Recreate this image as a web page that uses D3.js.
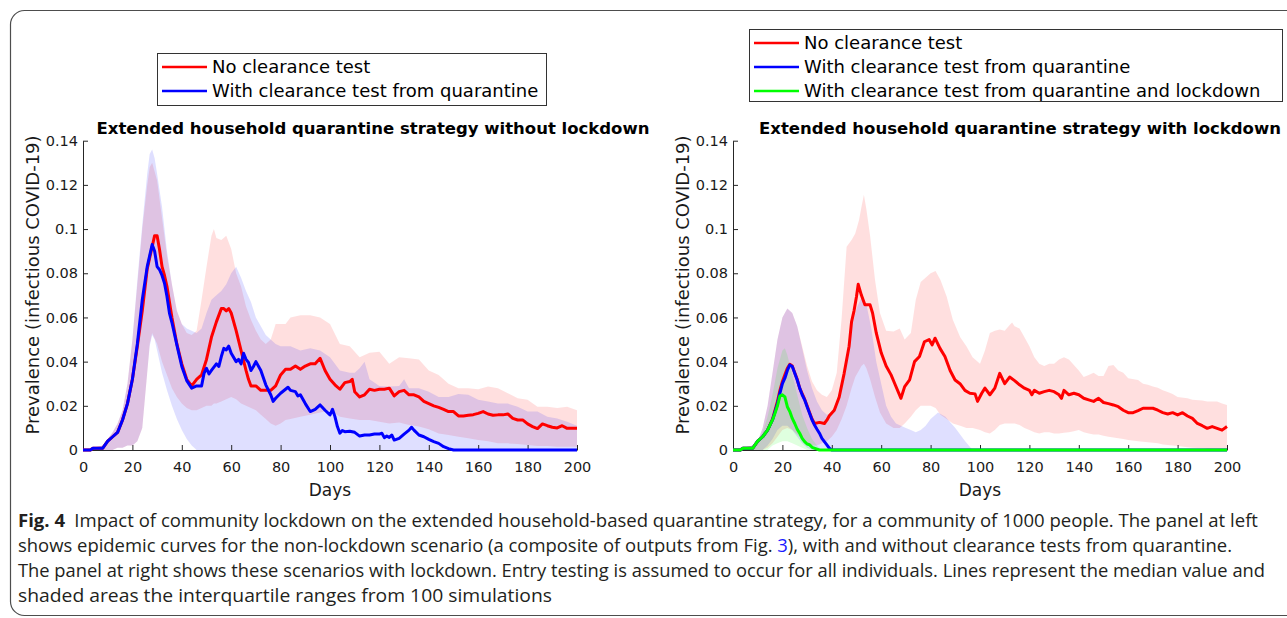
<!DOCTYPE html>
<html><head><meta charset="utf-8">
<script src="https://cdn.jsdelivr.net/npm/d3@7"></script>
<style>
html,body{margin:0;padding:0;background:#fff;}
svg{display:block;}
</style></head>
<body>
<svg id="chart" width="1287" height="618"></svg>
<script>
// ---------------- DATA ----------------
const xTicks = [0,20,40,60,80,100,120,140,160,180,200];
const yTicks = [0,0.02,0.04,0.06,0.08,0.1,0.12,0.14];
const yTickLabels = ["0","0.02","0.04","0.06","0.08","0.1","0.12","0.14"];

const seriesNames = ["No clearance test","With clearance test from quarantine","With clearance test from quarantine and lockdown"];
const titles = ["Extended household quarantine strategy without lockdown","Extended household quarantine strategy with lockdown"];
const yLabel = "Prevalence (infectious COVID-19)";
const xLabel = "Days";

// Left panel: medians [day, value]
const leftNoTest = [[0,0],[3,0],[4,0.0008],[8,0.0008],[10,0.004],[12,0.006],[14,0.008],[16,0.0136],[18,0.021],[20,0.032],[22,0.047],[24,0.063],[26,0.082],[28,0.092],[29,0.097],[30,0.097],[31,0.0906],[32,0.083],[33,0.079],[34,0.074],[36,0.060],[38,0.048],[40,0.039],[42,0.032],[44,0.029],[46,0.032],[48,0.034],[50,0.041],[52,0.051],[54,0.058],[56,0.064],[57,0.064],[58,0.063],[59,0.064],[60,0.062],[62,0.054],[64,0.045],[66,0.036],[67,0.032],[68,0.029],[70,0.029],[72,0.027],[74,0.027],[76,0.027],[78,0.029],[80,0.034],[82,0.0365],[84,0.0365],[86,0.038],[88,0.0365],[90,0.038],[92,0.039],[94,0.039],[96,0.0415],[98,0.036],[100,0.032],[102,0.0295],[104,0.0275],[106,0.0305],[108,0.031],[109,0.032],[110,0.0264],[112,0.024],[114,0.025],[116,0.0275],[118,0.027],[120,0.0275],[122,0.0275],[124,0.028],[126,0.0245],[128,0.0264],[130,0.027],[132,0.025],[134,0.025],[136,0.024],[138,0.022],[140,0.021],[142,0.020],[144,0.0193],[146,0.0184],[148,0.0174],[150,0.0174],[152,0.0154],[154,0.0154],[156,0.0157],[158,0.016],[160,0.0166],[162,0.0174],[164,0.0163],[166,0.0157],[168,0.0159],[170,0.0159],[172,0.0163],[174,0.0143],[176,0.0136],[178,0.0136],[180,0.0118],[182,0.0106],[184,0.0097],[186,0.0118],[188,0.011],[190,0.0103],[192,0.010],[194,0.011],[196,0.0098],[198,0.0098],[200,0.0098]];
const leftWithTest = [[0,0],[3,0],[4,0.0008],[8,0.0008],[10,0.004],[12,0.006],[14,0.008],[16,0.0136],[18,0.021],[20,0.032],[22,0.048],[24,0.068],[26,0.083],[27,0.088],[28,0.093],[29,0.090],[30,0.083],[31,0.0816],[32,0.079],[33,0.0755],[34,0.0695],[35,0.062],[36,0.0577],[38,0.0476],[40,0.0378],[42,0.0314],[44,0.028],[46,0.029],[48,0.029],[49,0.0347],[50,0.037],[51,0.0344],[52,0.036],[54,0.039],[55,0.0378],[56,0.0423],[57,0.046],[58,0.0453],[59,0.047],[60,0.0438],[62,0.040],[63,0.041],[64,0.039],[65,0.0438],[66,0.041],[67,0.0396],[68,0.036],[69,0.0378],[70,0.040],[72,0.036],[74,0.0295],[76,0.025],[77,0.022],[78,0.0234],[80,0.0257],[82,0.0275],[83,0.0284],[84,0.027],[86,0.0264],[87,0.0245],[88,0.025],[90,0.021],[92,0.0174],[94,0.0184],[96,0.0204],[98,0.018],[100,0.0159],[101,0.0184],[102,0.0151],[103,0.0106],[104,0.0076],[105,0.0088],[106,0.0083],[108,0.0085],[110,0.008],[112,0.0063],[114,0.0068],[116,0.0068],[118,0.0072],[120,0.0072],[121,0.0076],[122,0.0056],[123,0.0063],[124,0.0057],[125,0.0068],[126,0.0045],[128,0.0053],[130,0.0072],[132,0.009],[133,0.0103],[134,0.009],[136,0.0068],[138,0.006],[140,0.0048],[142,0.0038],[144,0.003],[146,0.0015],[148,0.0006],[150,0],[200,0]];
// Left panel: interquartile bands [day, lower, upper]
const leftNoTestBand = [[0,0,0],[4,0,0.001],[8,0,0.002],[10,0,0.005],[12,0,0.008],[14,0.001,0.012],[16,0.001,0.018],[18,0.002,0.03],[20,0.002,0.05],[22,0.004,0.075],[24,0.01,0.1],[26,0.035,0.12],[27,0.048,0.128],[28,0.053,0.13],[30,0.048,0.122],[32,0.04,0.105],[34,0.034,0.088],[36,0.028,0.075],[38,0.024,0.063],[40,0.021,0.057],[42,0.019,0.053],[44,0.018,0.052],[46,0.018,0.054],[48,0.019,0.068],[50,0.02,0.083],[52,0.02,0.097],[53,0.021,0.1],[54,0.021,0.096],[56,0.022,0.095],[58,0.023,0.097],[60,0.024,0.091],[62,0.023,0.08],[64,0.021,0.074],[66,0.02,0.065],[68,0.019,0.059],[70,0.018,0.054],[72,0.016,0.05],[74,0.014,0.048],[76,0.012,0.05],[78,0.011,0.057],[80,0.012,0.057],[82,0.0136,0.057],[84,0.014,0.06],[88,0.015,0.061],[92,0.016,0.061],[96,0.017,0.06],[100,0.018,0.057],[104,0.015,0.048],[108,0.0143,0.047],[112,0.0136,0.042],[116,0.0136,0.044],[120,0.0128,0.0445],[124,0.012,0.039],[128,0.0125,0.042],[132,0.0113,0.0415],[136,0.0106,0.041],[140,0.0094,0.036],[144,0.0075,0.034],[148,0.0068,0.030],[152,0.006,0.028],[156,0.0053,0.028],[160,0.0045,0.0275],[164,0.004,0.0287],[168,0.003,0.028],[172,0.003,0.0257],[176,0.0027,0.0234],[180,0.0023,0.0227],[184,0.0018,0.0196],[188,0.0018,0.0196],[192,0.0015,0.019],[196,0.0015,0.0196],[200,0.0015,0.018]];
const leftWithTestBand = [[0,0,0],[4,0,0.001],[8,0,0.002],[10,0,0.005],[12,0,0.008],[14,0.001,0.012],[16,0.001,0.018],[18,0.002,0.03],[20,0.002,0.05],[22,0.004,0.077],[24,0.01,0.102],[26,0.035,0.125],[27,0.047,0.134],[28,0.052,0.136],[29,0.05,0.132],[30,0.045,0.125],[32,0.035,0.11],[34,0.027,0.09],[36,0.02,0.075],[38,0.014,0.063],[40,0.009,0.057],[42,0.005,0.055],[44,0.002,0.054],[46,0,0.053],[48,0,0.055],[50,0,0.062],[52,0,0.068],[54,0,0.07],[56,0,0.072],[58,0,0.075],[60,0,0.08],[62,0,0.083],[64,0,0.078],[66,0,0.072],[68,0,0.067],[70,0,0.06],[72,0,0.056],[74,0,0.052],[76,0,0.05],[78,0,0.048],[80,0,0.047],[84,0,0.047],[88,0,0.045],[92,0,0.046],[96,0,0.045],[100,0,0.042],[104,0,0.036],[108,0,0.035],[110,0,0.035],[112,0,0.037],[114,0,0.04],[116,0,0.032],[120,0,0.029],[124,0,0.0287],[128,0,0.029],[130,0,0.032],[132,0,0.028],[136,0,0.028],[140,0,0.0264],[144,0,0.024],[148,0,0.024],[152,0,0.0254],[156,0,0.025],[160,0,0.0227],[164,0,0.022],[168,0,0.021],[172,0,0.021],[176,0,0.0196],[180,0,0.0174],[184,0,0.0174],[188,0,0.015],[192,0,0.0143],[196,0,0.0128],[200,0,0.011]];

// Right panel: medians
const rightNoTest = [[0,0],[3,0],[4,0.0008],[8,0.0008],[10,0.004],[12,0.006],[14,0.009],[16,0.014],[18,0.022],[19,0.027],[20,0.031],[21,0.034],[22,0.037],[23,0.0388],[24,0.038],[25,0.035],[26,0.032],[27,0.028],[28,0.0255],[29,0.023],[30,0.02],[31,0.017],[32,0.014],[33,0.012],[35,0.0125],[37,0.012],[38,0.0135],[39,0.0155],[41,0.018],[43,0.024],[45,0.0347],[47,0.047],[48,0.058],[49,0.063],[50,0.0695],[50.7,0.075],[52,0.070],[53.4,0.0657],[55.5,0.0657],[56.5,0.062],[58,0.053],[60,0.044],[62,0.038],[64,0.034],[65.5,0.030],[68,0.0234],[69.5,0.0287],[71.5,0.0317],[73.5,0.040],[75.5,0.0423],[77.5,0.049],[79.4,0.050],[80.6,0.0476],[81.8,0.0506],[83.8,0.046],[85.8,0.0423],[87.9,0.036],[89.9,0.0317],[91.9,0.030],[93.9,0.027],[95.9,0.0257],[98,0.0254],[99,0.022],[100.7,0.0257],[102,0.028],[104,0.025],[106,0.028],[108,0.0347],[110,0.030],[112,0.033],[114,0.0314],[116,0.0295],[118,0.028],[120,0.027],[121,0.025],[122,0.027],[124,0.0257],[126,0.0264],[128,0.027],[130,0.0264],[132,0.025],[133,0.0234],[134,0.027],[136,0.025],[138,0.0257],[140,0.025],[142,0.0234],[144,0.0227],[146,0.022],[148,0.0234],[150,0.0215],[152,0.021],[154,0.0204],[156,0.0196],[158,0.018],[160,0.0169],[162,0.0169],[164,0.0178],[166,0.0189],[168,0.0189],[170,0.0189],[172,0.018],[174,0.0169],[176,0.0163],[178,0.0169],[180,0.0159],[182,0.0169],[184,0.0154],[186,0.0143],[188,0.012],[190,0.011],[192,0.0098],[194,0.0106],[196,0.0098],[198,0.009],[200,0.0106]];
const rightWithTest = [[0,0],[3,0],[4,0.0008],[8,0.0008],[10,0.004],[12,0.006],[14,0.009],[16,0.0136],[18,0.021],[19,0.0257],[20,0.030],[21,0.0325],[22,0.036],[23,0.0385],[24,0.0378],[25,0.0347],[26,0.0317],[27,0.028],[28,0.025],[29,0.0227],[30,0.0196],[31,0.0166],[32,0.0136],[33,0.0113],[34,0.0094],[35,0.0076],[36,0.0053],[37,0.0038],[38,0.0023],[39,0.0008],[40,0],[200,0]];
const rightLockdown = [[0,0],[3,0],[4,0.0008],[8,0.0008],[10,0.004],[12,0.006],[14,0.009],[16,0.0136],[17,0.0166],[18,0.020],[19,0.0245],[20,0.025],[21,0.024],[22,0.0196],[23,0.0174],[24,0.0143],[25,0.012],[26,0.0094],[27,0.0076],[28,0.0053],[29,0.0038],[30,0.0027],[31,0.0024],[32,0.0012],[34,0.0004],[35,0],[200,0]];
// Right panel: bands
const rightNoTestBand = [[0,0,0],[4,0,0.001],[8,0,0.002],[10,0,0.004],[12,0,0.01],[14,0.001,0.02],[16,0.003,0.035],[18,0.006,0.05],[20,0.009,0.06],[22,0.01,0.064],[24,0.009,0.062],[26,0.007,0.056],[28,0.005,0.047],[30,0.003,0.038],[32,0.002,0.031],[34,0.002,0.027],[36,0.003,0.025],[38,0.004,0.024],[40,0.006,0.027],[42,0.009,0.035],[44,0.014,0.06],[46,0.02,0.092],[48,0.028,0.095],[49.5,0.033,0.098],[51,0.036,0.104],[52,0.038,0.11],[53,0.039,0.1155],[54,0.037,0.109],[55.5,0.032,0.097],[57.5,0.024,0.077],[59.5,0.017,0.062],[62,0.012,0.054],[65,0.01,0.0536],[67.5,0.01,0.055],[69.5,0.012,0.05],[72,0.015,0.053],[74,0.018,0.068],[76,0.02,0.076],[80,0.02,0.08],[82,0.019,0.081],[84,0.016,0.077],[86.5,0.014,0.0695],[89,0.012,0.059],[92,0.011,0.051],[94.5,0.01,0.047],[97,0.01,0.042],[100,0.009,0.039],[102,0.008,0.045],[104,0.0075,0.053],[106,0.009,0.054],[108,0.0113,0.0545],[110,0.012,0.054],[112,0.012,0.0566],[113,0.012,0.0577],[114,0.012,0.056],[116,0.0113,0.055],[118,0.01,0.051],[120,0.009,0.047],[122,0.008,0.042],[124,0.0075,0.039],[126,0.008,0.038],[128,0.008,0.039],[130,0.0075,0.039],[132,0.0075,0.041],[134,0.0078,0.042],[136,0.008,0.041],[138,0.0085,0.0385],[140,0.009,0.036],[142,0.008,0.033],[144,0.0075,0.034],[146,0.007,0.035],[148,0.007,0.0335],[150,0.0065,0.0335],[152,0.006,0.038],[154,0.0057,0.0385],[156,0.0053,0.036],[158,0.005,0.035],[160,0.0045,0.0325],[164,0.004,0.0317],[166,0.0037,0.030],[168,0.0035,0.0295],[170,0.0033,0.0287],[172,0.003,0.0282],[174,0.0025,0.027],[176,0.0023,0.0262],[178,0.002,0.0254],[180,0.0018,0.024],[184,0.0012,0.0234],[186,0.001,0.0227],[190,0.0008,0.0224],[192,0.0005,0.022],[196,0.0004,0.022],[198,0.0003,0.021],[200,0.0003,0.0204]];
const rightWithTestBand = [[0,0,0],[4,0,0.001],[8,0,0.002],[10,0,0.004],[12,0,0.01],[14,0.002,0.02],[16,0.005,0.035],[18,0.009,0.05],[20,0.011,0.06],[22,0.011,0.064],[24,0.009,0.062],[26,0.006,0.056],[28,0.003,0.046],[30,0.001,0.036],[32,0,0.028],[34,0,0.022],[36,0,0.018],[38,0,0.016],[40,0,0.017],[42,0,0.022],[44,0,0.03],[46,0,0.042],[48,0,0.055],[50,0,0.064],[52,0,0.069],[54,0,0.066],[56,0,0.055],[58,0,0.04],[60,0,0.03],[62,0,0.02],[64,0,0.015],[66,0,0.012],[68,0,0.011],[70,0,0.01],[72,0,0.009],[74,0,0.008],[76,0,0.009],[78,0,0.011],[80,0,0.014],[83,0,0.017],[86,0,0.015],[90,0,0.01],[94,0,0.004],[97,0,0]];
const rightLockdownBand = [[0,0,0],[4,0,0.001],[8,0,0.002],[10,0,0.004],[12,0,0.008],[14,0,0.015],[16,0.002,0.025],[18,0.003,0.037],[20,0.004,0.045],[21,0.004,0.046],[22,0.004,0.043],[24,0.003,0.034],[26,0.002,0.025],[28,0.001,0.016],[30,0,0.01],[32,0,0.005],[34,0,0.002],[36,0,0]];

const colors = ["#ff0000","#0000ff","#00ff00"];

const captionLines = [
  [{t:"Fig. 4",b:true},{t:"\u2002Impact of community lockdown on the extended household-based quarantine strategy, for a community of 1000 people. The panel at left"}],
  [{t:"shows epidemic curves for the non-lockdown scenario (a composite of outputs from Fig. "},{t:"3",link:true},{t:"), with and without clearance tests from quarantine."}],
  [{t:"The panel at right shows these scenarios with lockdown. Entry testing is assumed to occur for all individuals. Lines represent the median value and"}],
  [{t:"shaded areas the interquartile ranges from 100 simulations"}]
];

// ---------------- DRAW ----------------
const svg = d3.select("#chart");
svg.append("rect").attr("width",1287).attr("height",618).attr("fill","#fff");
// outer rounded frame
svg.append("rect").attr("x",10.5).attr("y",10.5).attr("width",1320).attr("height",605)
  .attr("rx",14).attr("fill","none").attr("stroke","#4d4d4d").attr("stroke-width",1.2);

const FONT = "'DejaVu Sans', Verdana, sans-serif";

function panel(cfg){
  const x = d3.scaleLinear().domain([0,200]).range([cfg.x0, cfg.x0+494]);
  const y = d3.scaleLinear().domain([0,0.14]).range([450, 140.7]);
  const g = svg.append("g");
  const area = d3.area().x(d=>x(d[0])).y0(d=>y(d[1])).y1(d=>y(d[2]));
  const line = d3.line().x(d=>x(d[0])).y(d=>y(d[1]));
  cfg.bands.forEach((b,i)=>{
    g.append("path").attr("d",area(b)).attr("fill",colors[i]).attr("fill-opacity",0.125).attr("stroke","none");
  });
  const ax = d3.axisBottom(x).tickValues(xTicks).tickSize(-5).tickSizeOuter(0).tickPadding(12);
  const ay = d3.axisLeft(y).tickValues(yTicks).tickFormat((d,i)=>yTickLabels[i]).tickSize(-5).tickSizeOuter(0).tickPadding(5);
  const gx = g.append("g").attr("transform","translate(0,450)").call(ax);
  const gy = g.append("g").attr("transform",`translate(${cfg.x0},0)`).call(ay);
  [gx,gy].forEach(a=>{
    a.selectAll("path,line").attr("stroke","#262626").attr("stroke-width",1);
    a.selectAll("text").attr("font-family",FONT).attr("font-size",14.5).attr("fill","#1a1a1a");
  });
  gx.selectAll("text").attr("dy","0.71em");
  cfg.lines.forEach((l,i)=>{
    g.append("path").attr("d",line(l)).attr("fill","none").attr("stroke",colors[i])
      .attr("stroke-width",3).attr("stroke-linejoin","round");
  });
  // labels
  g.append("text").attr("x",cfg.titleX).attr("y",134).attr("text-anchor","middle")
    .attr("font-family",FONT).attr("font-weight","bold").attr("font-size",16.5).attr("fill","#000").text(cfg.title);
  g.append("text").attr("x",cfg.x0+247).attr("y",496).attr("text-anchor","middle")
    .attr("font-family",FONT).attr("font-size",17).attr("fill","#1a1a1a").text(xLabel);
  g.append("text").attr("transform",`translate(${cfg.x0-50},285) rotate(-90)`).attr("text-anchor","middle")
    .attr("dy","0.35em").attr("font-family",FONT).attr("font-size",18).attr("fill","#1a1a1a").text(yLabel);
  // legend
  const L = cfg.legend;
  g.append("rect").attr("x",L.x+0.5).attr("y",L.y+0.5).attr("width",L.w).attr("height",L.h)
    .attr("fill","#fff").attr("stroke","#333").attr("stroke-width",1);
  cfg.lines.forEach((l,i)=>{
    const cy = L.y + 14 + i*24;
    g.append("line").attr("x1",L.x+5).attr("x2",L.x+50).attr("y1",cy).attr("y2",cy)
      .attr("stroke",colors[i]).attr("stroke-width",2.5);
    g.append("text").attr("x",L.x+55).attr("y",cy).attr("dy","0.36em")
      .attr("font-family",FONT).attr("font-size",18).attr("fill","#000").text(seriesNames[i]);
  });
}

panel({x0:83, title:titles[0], titleX:373,
  bands:[leftNoTestBand,leftWithTestBand], lines:[leftNoTest,leftWithTest],
  legend:{x:157,y:53,w:389,h:52}});
panel({x0:733, title:titles[1], titleX:1020,
  bands:[rightNoTestBand,rightWithTestBand,rightLockdownBand], lines:[rightNoTest,rightWithTest,rightLockdown],
  legend:{x:749,y:29,w:533,h:72}});

// caption
const capWidths = [1240,1214,1247,534];
captionLines.forEach((parts,i)=>{
  const t = svg.append("text").attr("x",18).attr("y",527+i*25)
    .attr("font-family","'Liberation Sans Narrow','Open Sans',sans-serif").attr("font-size",18)
    .attr("fill","#231f20").attr("textLength",capWidths[i]).attr("lengthAdjust","spacingAndGlyphs");
  parts.forEach(p=>{
    const s = t.append("tspan").text(p.t);
    if(p.b) s.attr("font-weight","bold");
    if(p.link) s.attr("fill","#1a1aff");
  });
});
</script>
</body></html>
